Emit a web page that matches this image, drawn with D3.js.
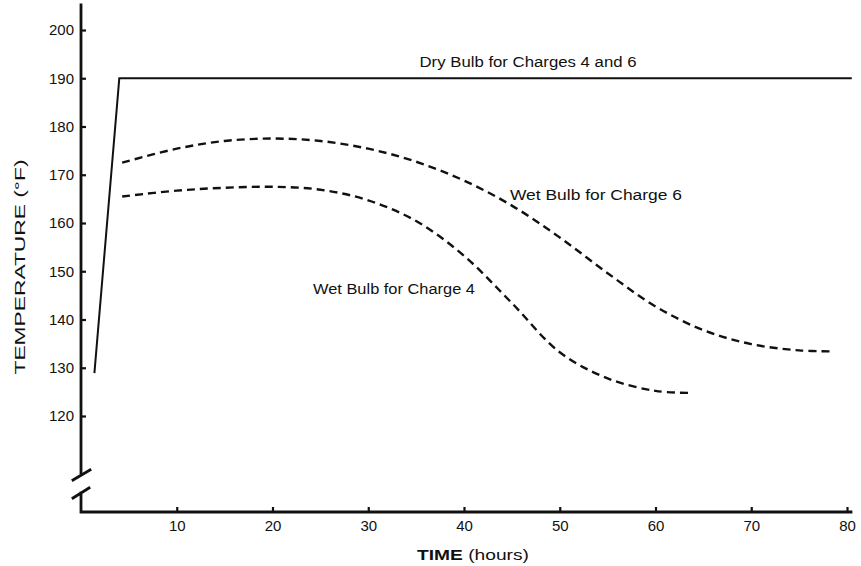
<!DOCTYPE html>
<html>
<head>
<meta charset="utf-8">
<script src="https://cdn.jsdelivr.net/npm/d3@7"></script>
<style>
  body { margin: 0; background: #fff; }
  text { font-family: "Liberation Sans", Arial, sans-serif; fill: #111; }
</style>
</head>
<body>
<svg id="chart" width="861" height="566"></svg>
<script>
// values (hours, deg F)
var dryHours = [1.4, 4.0, 80.5];
var dryTemp  = [128.9, 190, 190];

var wet6Hours = [4.3, 10, 15, 20, 25, 30, 35, 40, 45, 50, 55, 60, 65, 70, 75, 78.5];
var wet6Temp  = [172.5, 175.4, 177.0, 177.5, 177.0, 175.4, 172.7, 168.8, 163.6, 157.0, 149.6, 142.7, 137.8, 134.9, 133.6, 133.4];

var wet4Hours = [4.3, 10, 15, 20, 25, 30, 35, 40, 45, 50, 55, 60, 63.6];
var wet4Temp  = [165.5, 166.7, 167.3, 167.5, 166.9, 164.7, 160.4, 153.2, 143.4, 133.2, 127.8, 125.2, 124.8];

var xTicks = [10, 20, 30, 40, 50, 60, 70, 80];
var yTicks = [120, 130, 140, 150, 160, 170, 180, 190, 200];

var svg = d3.select("#chart");

var x = d3.scaleLinear().domain([0, 80]).range([81, 847]);
var y = d3.scaleLinear().domain([120, 200]).range([416, 30]);

// axes, ticks point inward
var yAxis = d3.axisLeft(y).tickValues(yTicks).tickSizeInner(-5).tickSizeOuter(0).tickPadding(7);
var gy = svg.append("g").attr("transform", "translate(81,0)").call(yAxis);
gy.select(".domain").remove();
gy.selectAll(".tick line").attr("stroke", "#111").attr("stroke-width", 2.2);
gy.selectAll(".tick text").style("font-size", "15px").attr("fill", "#111");

var xAxis = d3.axisBottom(x).tickValues(xTicks).tickSizeInner(-5).tickSizeOuter(0).tickPadding(8);
var gx = svg.append("g").attr("transform", "translate(0,512)").call(xAxis);
gx.select(".domain").remove();
gx.selectAll(".tick line").attr("stroke", "#111").attr("stroke-width", 2.2);
gx.selectAll(".tick text").style("font-size", "15px").attr("fill", "#111");

// axis lines with the break
var axisStyle = function(sel) {
   sel.attr("stroke", "#111").attr("stroke-width", 2.8).attr("fill", "none").attr("stroke-linecap", "square");
};
svg.append("line").attr("x1", 81).attr("y1", 5).attr("x2", 81).attr("y2", 473).call(axisStyle);
svg.append("line").attr("x1", 73).attr("y1", 480).attr("x2", 90).attr("y2", 470).call(axisStyle);
svg.append("path").attr("d", "M73,498 L89,488 M81,493 L81,512 L851,512").call(axisStyle);

// curves
var line = d3.line()
   .x(function(d) { return x(d[0]); })
   .y(function(d) { return y(d[1]); })
   .curve(d3.curveCatmullRom.alpha(0.5));

var straight = d3.line()
   .x(function(d) { return x(d[0]); })
   .y(function(d) { return y(d[1]); });

svg.append("path")
   .datum(d3.zip(dryHours, dryTemp))
   .attr("d", straight)
   .attr("fill", "none").attr("stroke", "#111").attr("stroke-width", 2);

[[wet6Hours, wet6Temp], [wet4Hours, wet4Temp]].forEach(function(s) {
   svg.append("path")
      .datum(d3.zip(s[0], s[1]))
      .attr("d", line)
      .attr("fill", "none")
      .attr("stroke", "#111")
      .attr("stroke-width", 2.4)
      .attr("stroke-dasharray", "8,5");
});

// labels (the original lettering is wide, so glyphs get stretched)
var labels = [
   { text: "Dry Bulb for Charges 4 and 6", x: 528, y: 67, w: 217 },
   { text: "Wet Bulb for Charge 6", x: 596, y: 200, w: 172 },
   { text: "Wet Bulb for Charge 4", x: 394, y: 294, w: 162 }
];
svg.selectAll(".lbl").data(labels).enter()
   .append("text")
   .attr("class", "lbl")
   .attr("x", function(d) { return d.x; })
   .attr("y", function(d) { return d.y; })
   .attr("text-anchor", "middle")
   .attr("textLength", function(d) { return d.w; })
   .attr("lengthAdjust", "spacingAndGlyphs")
   .style("font-size", "14px")
   .text(function(d) { return d.text; });

svg.append("text")
   .attr("x", 473).attr("y", 560)
   .attr("text-anchor", "middle")
   .attr("textLength", 112)
   .attr("lengthAdjust", "spacingAndGlyphs")
   .style("font-size", "15px")
   .html('<tspan font-weight="bold">TIME</tspan> (hours)');

svg.append("text")
   .attr("transform", "translate(25,267) rotate(-90)")
   .attr("text-anchor", "middle")
   .attr("textLength", 215)
   .attr("lengthAdjust", "spacingAndGlyphs")
   .style("font-size", "15px")
   .text("TEMPERATURE (°F)");
</script>
</body>
</html>
